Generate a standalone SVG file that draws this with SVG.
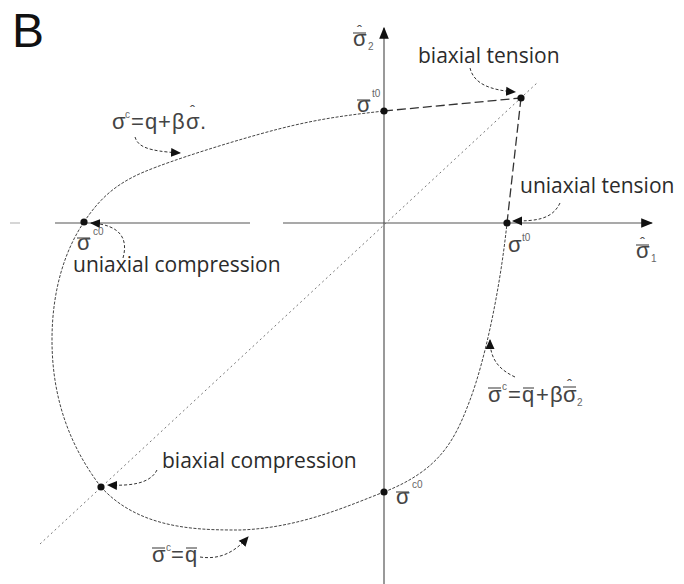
<svg xmlns="http://www.w3.org/2000/svg" width="684" height="584" viewBox="0 0 684 584">
<defs>
<marker id="ah" viewBox="0 0 10 10" refX="9" refY="5" markerWidth="10" markerHeight="10" markerUnits="userSpaceOnUse" orient="auto"><path d="M0,0.5 L10,5 L0,9.5 z" fill="#111"/></marker>
<marker id="ax" viewBox="0 0 10 10" refX="9" refY="5" markerWidth="12" markerHeight="12" markerUnits="userSpaceOnUse" orient="auto"><path d="M0,1 L10,5 L0,9 z" fill="#111"/></marker>
<style>
.lbl{font-family:"Open Sans","Noto Sans",sans-serif;font-size:21px;fill:#2b2b2b}
.sym{font-family:"Liberation Sans",Arial,sans-serif;font-size:22px;fill:#444}
.h{font-size:15px}
.sup{font-family:"Liberation Sans",Arial,sans-serif;font-size:10px;fill:#666}
.bar{stroke:#555;stroke-width:1.2}
.dot{fill:none;stroke:#777;stroke-width:1;stroke-dasharray:2 3}
.fine{fill:none;stroke:#444;stroke-width:1;stroke-dasharray:3 1.5}
.dash{fill:none;stroke:#333;stroke-width:1.3;stroke-dasharray:9 4}
.arr{fill:none;stroke:#333;stroke-width:1;stroke-dasharray:3 2}
.axis{stroke:#555;stroke-width:1.2;fill:none}
.pt{fill:#111}
</style>
</defs>
<rect width="684" height="584" fill="#fff"/>
<text x="12" y="47" font-family="Liberation Sans, Arial, sans-serif" font-size="48" fill="#111">B</text>

<g id="axes">
<line class="axis" x1="384" y1="584" x2="384" y2="28" marker-end="url(#ax)"/>
<line x1="10" y1="223" x2="20" y2="223" stroke="#bbb" stroke-width="1.2"/>
<line class="axis" x1="55" y1="223" x2="250" y2="223"/>
<line class="axis" x1="283" y1="223" x2="652" y2="223" marker-end="url(#ax)"/>
<line class="dot" x1="40" y1="544" x2="537" y2="83"/>
</g>

<g id="surface">
<path class="fine" d="M84,222 C100,198 115,186 135,176 S210,148 260,134 S340,116 384,111"/>
<path class="fine" d="M84,222 C65,250 52,290 52,340 C52,390 65,440 101,487"/>
<path class="fine" d="M101,487 C140,530 200,530 240,530 C300,528 350,505 384,492"/>
<path class="fine" d="M384,492 C440,470 455,440 470,400 C485,360 500,290 507,223"/>
<path class="dash" d="M384,111 L521,98"/>
<path class="dash" d="M521,98 L507,223"/>
</g>

<g id="points">
<circle class="pt" cx="521" cy="98" r="3.6"/>
<circle class="pt" cx="384" cy="111" r="3.6"/>
<circle class="pt" cx="507" cy="223" r="3.6"/>
<circle class="pt" cx="84" cy="222" r="3.6"/>
<circle class="pt" cx="101" cy="487" r="3.6"/>
<circle class="pt" cx="384" cy="492" r="3.6"/>
</g>

<g id="connectors">
<path class="arr" d="M135,137 C138,147 148,151 180,153" marker-end="url(#ah)"/>
<path class="arr" d="M470,68 C474,84 490,90 515,92" marker-end="url(#ah)"/>
<path class="arr" d="M560,203 C552,220 535,221 513,221" marker-end="url(#ah)"/>
<path class="arr" d="M123,258 C128,240 122,225 91,223" marker-end="url(#ah)"/>
<path class="arr" d="M157,470 C150,484 130,486 108,485" marker-end="url(#ah)"/>
<path class="arr" d="M515,377 C500,370 490,360 490,340" marker-end="url(#ah)"/>
<path class="arr" d="M200,557 C220,560 235,552 248,537" marker-end="url(#ah)"/>
</g>

<g id="labels">
<text class="lbl" x="418" y="63">biaxial tension</text>
<text class="lbl" x="520" y="193">uniaxial tension</text>
<text class="lbl" x="73" y="272">uniaxial compression</text>
<text class="lbl" x="162" y="468">biaxial compression</text>
</g>

<g id="symbols">
<!-- vertical axis label -->
<text class="sym" x="353" y="46">σ<tspan class="h" x="357" y="36">ˆ</tspan></text><line class="bar" x1="353" y1="33" x2="366" y2="33"/><text class="sup" x="368" y="50">2</text>
<!-- horizontal axis label -->
<text class="sym" x="636" y="258">σ<tspan class="h" x="640" y="248">ˆ</tspan></text><line class="bar" x1="636" y1="245" x2="649" y2="245"/><text class="sup" x="651" y="262">1</text>
<!-- top point -->
<text class="sym" x="357" y="112">σ</text><line class="bar" x1="357" y1="100" x2="370" y2="100"/><text class="sup" x="372" y="97">t0</text>
<!-- left point -->
<text class="sym" x="77" y="250">σ</text><line class="bar" x1="77" y1="238" x2="90" y2="238"/><text class="sup" x="93" y="235">c0</text>
<!-- right point -->
<text class="sym" x="508" y="252">σ</text><text class="sup" x="522" y="241">t0</text>
<!-- bottom point -->
<text class="sym" x="396" y="504">σ</text><line class="bar" x1="396" y1="492" x2="409" y2="492"/><text class="sup" x="412" y="488">c0</text>

<!-- top-left formula -->
<text class="sym" x="112" y="129">σ</text><text class="sup" x="125" y="118">c</text>
<text class="sym" x="131" y="129">=</text><text class="sym" x="145" y="129">q</text><text class="sym" x="158" y="129">+</text><text class="sym" x="172" y="129">β</text><text class="sym" x="186" y="129">σ<tspan class="h" x="190" y="116">ˆ</tspan></text><text class="sym" x="200" y="129">.</text>

<!-- right formula -->
<text class="sym" x="488" y="402">σ</text><line class="bar" x1="488" y1="388" x2="501" y2="388"/><text class="sup" x="502" y="390">c</text>
<text class="sym" x="508" y="402">=</text><text class="sym" x="522" y="402">q</text><line class="bar" x1="523" y1="388" x2="534" y2="388"/>
<text class="sym" x="536" y="402">+</text><text class="sym" x="550" y="402">β</text><text class="sym" x="563" y="402">σ<tspan class="h" x="567" y="390">ˆ</tspan></text>
<line class="bar" x1="563" y1="387" x2="576" y2="387"/><text class="sup" x="577" y="406">2</text>

<!-- bottom formula -->
<text class="sym" x="152" y="562">σ</text><line class="bar" x1="152" y1="548" x2="165" y2="548"/><text class="sup" x="166" y="551">c</text>
<text class="sym" x="171" y="562">=</text><text class="sym" x="185" y="562">q</text><line class="bar" x1="186" y1="548" x2="197" y2="548"/>
</g>
</svg>
